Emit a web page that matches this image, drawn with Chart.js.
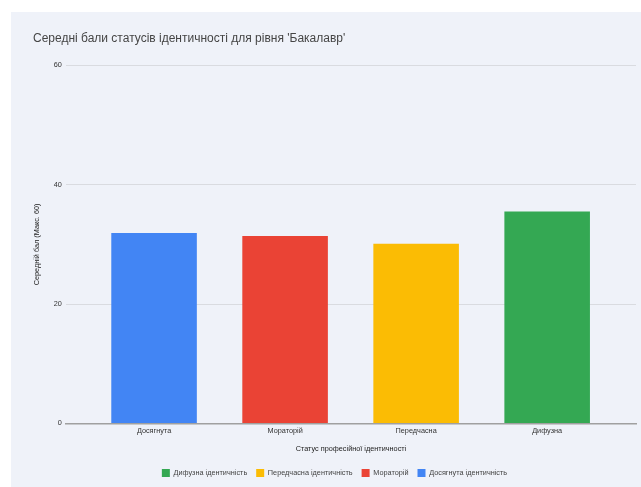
<!DOCTYPE html>
<html>
<head>
<meta charset="utf-8">
<script src="https://cdn.jsdelivr.net/npm/chart.js@4"></script>
<style>
  html, body { margin: 0; padding: 0; background: #ffffff; }
  #panel { position: absolute; left: 11px; top: 12px; width: 630px; height: 475px; background: #eff2f9; }
  canvas { display: block; }
</style>
</head>
<body>
<div id="panel"><canvas id="c" width="630" height="475"></canvas></div>
<script>
const titleText = "Середні бали статусів ідентичності для рівня 'Бакалавр'";
const categories = ["Досягнута", "Мораторій", "Передчасна", "Дифузна"];
const values = [31.9, 31.4, 30.1, 35.5];
const seriesNames = ["Досягнута ідентичність", "Мораторій", "Передчасна ідентичність", "Дифузна ідентичність"];
const seriesColors = ["#4285f4", "#ea4335", "#fbbc04", "#34a853"];
const legendOrder = [3, 2, 1, 0];
const yTicks = [0, 20, 40, 60];
const yTitle = "Середній бал (Макс. 60)";
const xTitle = "Статус професійної ідентичності";

const datasets = legendOrder.map(i => ({
  label: seriesNames[i],
  data: [{ x: i, y: values[i] }],
  backgroundColor: seriesColors[i],
  borderColor: seriesColors[i],
  borderWidth: 0,
  grouped: false,
  categoryPercentage: 0.653,
  barPercentage: 1
}));

const font = { family: "Arial, 'Liberation Sans', sans-serif", size: 7.3 };

new Chart(document.getElementById('c'), {
  type: 'bar',
  data: { datasets },
  options: {
    responsive: false,
    animation: false,
    layout: { padding: { left: 22, right: 5, top: 12, bottom: 0 } },
    plugins: {
      title: {
        display: true, text: titleText, align: 'start',
        color: '#454545',
        font: { family: "Arial, 'Liberation Sans', sans-serif", size: 12, weight: 'normal' },
        padding: { top: 7, bottom: 20 }
      },
      legend: {
        position: 'bottom',
        labels: {
          boxWidth: 8, boxHeight: 8, padding: 9,
          color: '#444', font
        }
      },
      tooltip: { enabled: false }
    },
    scales: {
      x: {
        type: 'linear',
        offset: false,
        min: -0.673, max: 3.678,
        grid: { display: false, drawTicks: false },
        border: { display: true, color: '#a0a0a0', width: 1.5 },
        ticks: {
          stepSize: 1, includeBounds: false, autoSkip: false, maxRotation: 0,
          padding: 3, color: '#333', font,
          callback: v => Number.isInteger(v) && v >= 0 && v < categories.length ? categories[v] : ''
        },
        title: { display: true, text: xTitle, color: '#222', font, padding: { top: 6, bottom: 7 } }
      },
      y: {
        min: 0, max: 60,
        afterBuildTicks: s => { s.ticks = yTicks.map(v => ({ value: v })); },
        grid: { color: '#d9dbe0', drawTicks: false },
        border: { display: false },
        ticks: { padding: 4, color: '#333', font },
        title: { display: true, text: yTitle, color: '#222', font, padding: { top: 0, bottom: 8 } }
      }
    }
  }
});
</script>
</body>
</html>
